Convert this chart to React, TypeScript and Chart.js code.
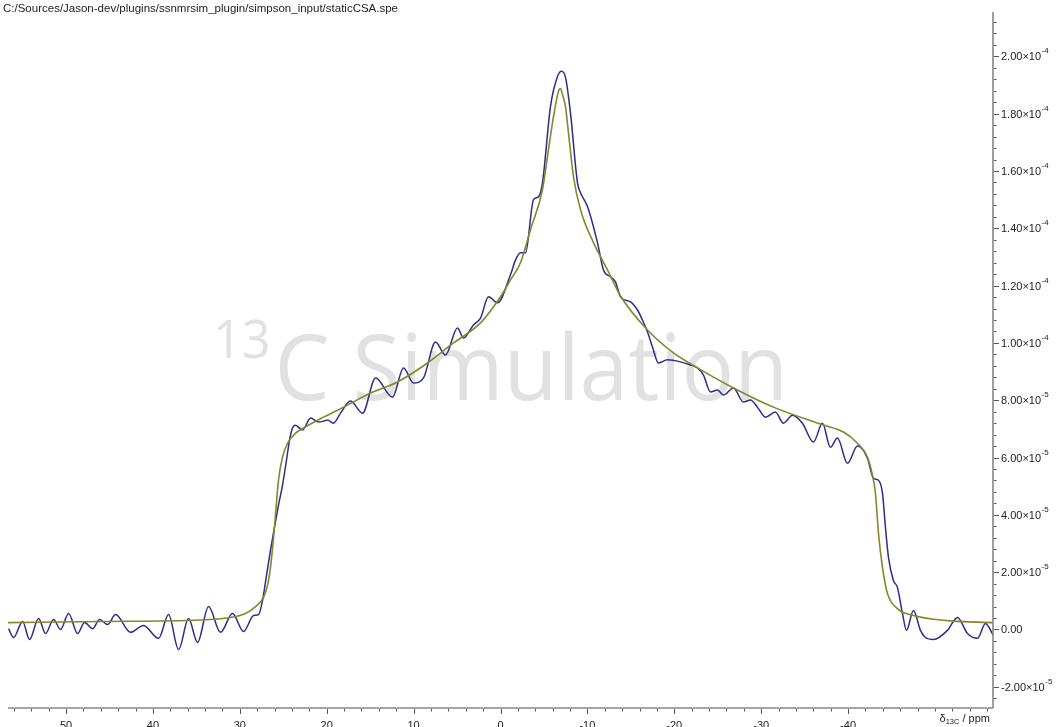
import { useEffect, useRef } from "react";
import { Chart, registerables } from "chart.js";

Chart.register(...registerables);

// ---- text ----
const TITLE = "C:/Sources/Jason-dev/plugins/ssnmrsim_plugin/simpson_input/staticCSA.spe";
const WATERMARK_SUP = "13";
const WATERMARK_MAIN = "C Simulation";
const X_LABEL_PARTS = ["δ", "13C", " / ppm"];

// ---- axes ----
const PPM_LIMIT = 56.68; // spectral window is symmetric about 0 ppm
const INTENSITY_MIN = -2.74e-5;
const INTENSITY_MAX = 2.155e-4;
const X_MAJOR_TICKS = [50, 40, 30, 20, 10, 0, -10, -20, -30, -40];
const X_MINOR_STEP = 2;
const Y_MAJOR_TICKS = [-2e-5, 0, 2e-5, 4e-5, 6e-5, 8e-5, 1e-4, 1.2e-4, 1.4e-4, 1.6e-4, 1.8e-4, 2e-4];
const Y_MANTISSAS = ["-2.00", "0.00", "2.00", "4.00", "6.00", "8.00", "1.00", "1.20", "1.40", "1.60", "1.80", "2.00"];
const Y_EXPONENTS = ["-5", "", "-5", "-5", "-5", "-5", "-4", "-4", "-4", "-4", "-4", "-4"];
const Y_MINOR_STEP = 4e-6;

// ---- spectra (intensities in units of 1e-5) ----
const INTENSITY_UNIT = 1e-5;

const experimentalPpm = [
  56.62, 56.04, 55.0, 54.2, 53.16, 52.36, 51.44, 50.63, 49.71, 48.67,
  47.87, 46.95, 46.14, 45.22, 44.3, 42.58, 41.08, 39.35, 38.2, 37.05,
  35.9, 34.87, 33.6, 32.22, 30.84, 29.57, 28.42, 27.85, 27.39, 26.93,
  26.47, 26.01, 25.55, 25.09, 24.63, 24.28, 23.94, 23.59, 22.78, 21.86,
  20.94, 20.37, 19.91, 19.22, 18.41, 17.26, 15.88, 14.38, 12.43, 11.16,
  10.01, 8.86, 7.48, 6.33, 4.95, 4.26, 3.11, 2.3, 1.38, 0.35,
  -1.15, -1.73, -2.3, -2.88, -3.8, -4.37, -4.83, -5.75, -6.56, -7.02,
  -7.48, -8.05, -8.86, -9.21, -10.01, -11.16, -11.85, -12.66, -13.23, -13.81,
  -14.96, -15.76, -16.34, -16.92, -17.49, -18.18, -19.22, -20.71, -21.86, -22.67,
  -23.36, -24.16, -24.97, -25.66, -26.81, -27.96, -28.77, -29.57, -30.49, -31.64,
  -32.56, -33.6, -34.75, -36.02, -37.05, -37.97, -38.78, -39.93, -41.08, -42.23,
  -42.92, -43.5, -43.96, -44.3, -44.65, -45.22, -45.68, -46.26, -46.72, -47.53,
  -48.33, -48.91, -49.83, -51.44, -52.59, -53.74, -54.89, -55.81, -56.73,
];
const experimentalIntensity = [
  0.03, -0.28, 0.28, -0.35, 0.38, -0.14, 0.35, 0.0, 0.56, -0.14,
  0.24, 0.03, 0.35, 0.17, 0.52, -0.1, 0.14, -0.31, 0.52, -0.7,
  0.38, -0.45, 0.8, -0.1, 0.56, -0.07, 0.49, 0.52, 1.01, 1.89,
  2.76, 3.57, 4.34, 5.03, 5.91, 6.61, 7.03, 7.13, 6.96, 7.38,
  7.24, 7.27, 7.31, 7.2, 7.55, 7.97, 7.55, 8.78, 8.11, 9.13,
  8.6, 8.78, 10.03, 9.58, 10.52, 10.17, 10.63, 10.87, 11.61, 11.4,
  12.38, 12.9, 13.15, 13.15, 15.0, 15.1, 15.59, 18.25, 19.3, 19.48,
  19.27, 18.04, 15.59, 15.24, 14.76, 13.5, 12.55, 12.31, 12.13, 11.61,
  11.43, 11.15, 10.8, 10.38, 9.86, 9.3, 9.41, 9.34, 9.23, 9.13,
  8.88, 8.29, 8.36, 8.18, 8.43, 7.94, 8.01, 7.76, 7.41, 7.59,
  7.2, 7.48, 7.2, 6.54, 7.2, 6.36, 6.68, 5.8, 6.4, 5.98,
  5.28, 5.21, 4.76, 3.57, 2.52, 1.71, 1.47, 0.56, -0.03, 0.66,
  -0.03, -0.28, -0.35, -0.03, 0.42, -0.14, -0.31, 0.21, -0.21,
];

const simulatedPpm = [
  56.68, 46.03, 34.52, 31.07, 29.34, 28.19, 27.27, 26.81, 26.47, 26.01,
  25.55, 25.09, 24.51, 23.59, 22.67, 20.37, 17.61, 14.96, 11.85, 8.4,
  5.41, 2.3, 0.0, -1.15, -2.3, -3.45, -4.83, -5.52, -6.1, -6.67,
  -6.9, -7.13, -7.48, -7.82, -8.4, -9.21, -10.7, -12.31, -13.81, -16.92,
  -19.91, -22.67, -26.81, -31.41, -36.82, -39.47, -41.08, -42.23, -42.81, -43.15,
  -43.5, -43.96, -44.53, -45.68, -47.53, -51.44, -56.68,
];
const simulatedIntensity = [
  0.24, 0.28, 0.33, 0.42, 0.56, 0.8, 1.12, 1.54, 2.17, 3.57,
  5.21, 6.01, 6.5, 6.85, 7.03, 7.41, 7.83, 8.25, 8.64, 9.3,
  10.0, 10.7, 11.61, 12.2, 12.8, 13.95, 15.35, 16.75, 17.9, 18.78,
  18.88, 18.67, 18.25, 17.34, 15.8, 14.65, 13.5, 12.55, 11.64, 10.45,
  9.65, 9.13, 8.43, 7.76, 7.17, 6.89, 6.5, 6.01, 5.38, 4.76,
  3.36, 2.17, 1.26, 0.73, 0.49, 0.31, 0.24,
];

// ---- styles ----
const EXPERIMENTAL_COLOR = "#2c2c8e";
const SIMULATED_COLOR = "#86862a";
const WATERMARK_COLOR = "#e1e1e1";
const AXIS_COLOR = "#858585";
const TICK_COLOR = "#555555";
const TEXT_COLOR = "#222222";
const LABEL_FONT = "'Liberation Sans', Arial, sans-serif";
const WATERMARK_FONT = "'Open Sans', 'Noto Sans', sans-serif";

const toPoints = (xs: number[], ys: number[]) =>
  xs.map((x, i) => ({ x, y: ys[i] * INTENSITY_UNIT }));

const framePlugin = {
  id: "spectrumFrame",
  beforeDatasetsDraw(chart: any) {
    const { ctx, chartArea } = chart;
    const F = 92;
    const supFont = `${Math.round(F * 0.58)}px ${WATERMARK_FONT}`;
    const mainFont = `${F}px ${WATERMARK_FONT}`;
    ctx.save();
    ctx.font = supFont;
    const supW = ctx.measureText(WATERMARK_SUP).width;
    ctx.font = mainFont;
    const mainW = ctx.measureText(WATERMARK_MAIN).width;
    const gap = 4;
    const total = supW + gap + mainW;
    const targetW = 575;
    const sx = targetW / total;
    const cx = (chartArea.left + chartArea.right) / 2;
    const baseline = (chartArea.top + chartArea.bottom) / 2 + 40;
    ctx.translate(cx - targetW / 2, baseline);
    ctx.scale(sx, 1);
    ctx.fillStyle = WATERMARK_COLOR;
    ctx.textBaseline = "alphabetic";
    ctx.textAlign = "left";
    ctx.font = supFont;
    ctx.fillText(WATERMARK_SUP, 0, -F * 0.46);
    ctx.font = mainFont;
    ctx.fillText(WATERMARK_MAIN, supW + gap, 0);
    ctx.restore();
  },
  afterDraw(chart: any) {
    const { ctx, chartArea } = chart;
    const xs = chart.scales.x;
    const ys = chart.scales.y;
    const { left, right, top, bottom } = chartArea;
    ctx.save();

    // axis lines
    ctx.strokeStyle = AXIS_COLOR;
    ctx.lineWidth = 1.6;
    ctx.beginPath();
    ctx.moveTo(left, bottom);
    ctx.lineTo(right, bottom);
    ctx.moveTo(right, top);
    ctx.lineTo(right, bottom);
    ctx.stroke();

    // ticks
    ctx.strokeStyle = TICK_COLOR;
    ctx.lineWidth = 1;
    ctx.beginPath();
    const xMinK = Math.ceil(-PPM_LIMIT / X_MINOR_STEP);
    const xMaxK = Math.floor(PPM_LIMIT / X_MINOR_STEP);
    for (let k = xMinK; k <= xMaxK; k++) {
      const v = k * X_MINOR_STEP;
      const px = Math.round(xs.getPixelForValue(v)) + 0.5;
      const major = X_MAJOR_TICKS.includes(v);
      ctx.moveTo(px, bottom + 1);
      ctx.lineTo(px, bottom + (major ? 6 : 3.5));
    }
    const yMinK = Math.ceil(INTENSITY_MIN / Y_MINOR_STEP - 1e-9);
    const yMaxK = Math.floor(INTENSITY_MAX / Y_MINOR_STEP + 1e-9);
    for (let k = yMinK; k <= yMaxK; k++) {
      const v = k * Y_MINOR_STEP;
      const py = Math.round(ys.getPixelForValue(v)) + 0.5;
      const major = k % 5 === 0;
      ctx.moveTo(right + 1, py);
      ctx.lineTo(right + (major ? 6 : 3.5), py);
    }
    ctx.stroke();

    // x tick labels
    ctx.fillStyle = TEXT_COLOR;
    ctx.font = `11px ${LABEL_FONT}`;
    ctx.textAlign = "center";
    ctx.textBaseline = "top";
    X_MAJOR_TICKS.forEach((v) => {
      ctx.fillText(String(v), xs.getPixelForValue(v), bottom + 12);
    });

    // x axis title: δ with subscript 13C
    ctx.textBaseline = "alphabetic";
    ctx.textAlign = "left";
    const mainF = `11px ${LABEL_FONT}`;
    const subF = `7.5px ${LABEL_FONT}`;
    ctx.font = mainF;
    const w0 = ctx.measureText(X_LABEL_PARTS[0]).width;
    const w2 = ctx.measureText(X_LABEL_PARTS[2]).width;
    ctx.font = subF;
    const w1 = ctx.measureText(X_LABEL_PARTS[1]).width;
    const xEnd = right - 3;
    let xl = xEnd - (w0 + w1 + w2);
    const base = bottom + 14;
    ctx.font = mainF;
    ctx.fillText(X_LABEL_PARTS[0], xl, base);
    xl += w0;
    ctx.font = subF;
    ctx.fillText(X_LABEL_PARTS[1], xl, base + 2);
    xl += w1;
    ctx.font = mainF;
    ctx.fillText(X_LABEL_PARTS[2], xl, base);

    // y tick labels with ×10 exponents
    Y_MAJOR_TICKS.forEach((v, i) => {
      const py = ys.getPixelForValue(v);
      const lx = right + 8;
      const exp = Y_EXPONENTS[i];
      const text = exp ? `${Y_MANTISSAS[i]}×10` : Y_MANTISSAS[i];
      ctx.font = mainF;
      ctx.fillText(text, lx, py + 4);
      if (exp) {
        const w = ctx.measureText(text).width;
        ctx.font = `8px ${LABEL_FONT}`;
        ctx.fillText(exp, lx + w + 0.5, py - 3);
      }
    });

    // file path title
    ctx.font = `11.5px ${LABEL_FONT}`;
    ctx.fillStyle = TEXT_COLOR;
    ctx.textAlign = "left";
    ctx.textBaseline = "alphabetic";
    ctx.fillText(TITLE, 3, 12);

    ctx.restore();
  },
};

export default function App() {
  const canvasRef = useRef<HTMLCanvasElement | null>(null);

  useEffect(() => {
    const canvas = canvasRef.current;
    if (!canvas) return;
    const chart = new Chart(canvas, {
      type: "line",
      data: {
        datasets: [
          {
            label: "simulated",
            data: toPoints(simulatedPpm, simulatedIntensity),
            borderColor: SIMULATED_COLOR,
            borderWidth: 1.6,
            pointRadius: 0,
            cubicInterpolationMode: "monotone",
            fill: false,
          },
          {
            label: "experimental",
            data: toPoints(experimentalPpm, experimentalIntensity),
            borderColor: EXPERIMENTAL_COLOR,
            borderWidth: 1.5,
            pointRadius: 0,
            cubicInterpolationMode: "monotone",
            fill: false,
          },
        ],
      },
      options: {
        responsive: false,
        animation: false,
        events: [],
        layout: { padding: { left: 8, right: 65, top: 12, bottom: 19 } },
        scales: {
          x: { type: "linear", min: -PPM_LIMIT, max: PPM_LIMIT, reverse: true, display: false },
          y: { type: "linear", min: INTENSITY_MIN, max: INTENSITY_MAX, display: false },
        },
        plugins: {
          legend: { display: false },
          tooltip: { enabled: false },
          title: { display: false },
        },
      },
      plugins: [framePlugin],
    });
    return () => chart.destroy();
  }, []);

  return (
    <div style={{ position: "fixed", left: 0, top: 0, width: 1058, height: 727, background: "#fff" }}>
      <canvas ref={canvasRef} width={1058} height={727} style={{ display: "block" }} />
    </div>
  );
}
